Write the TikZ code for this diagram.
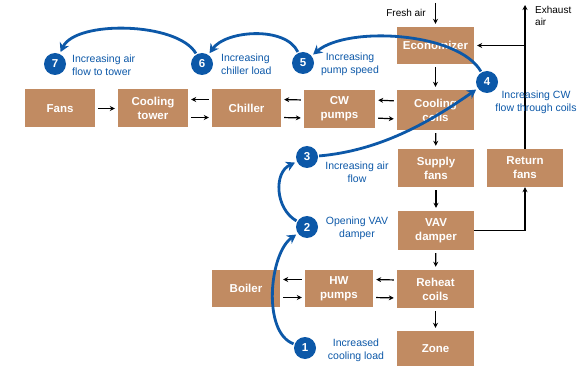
\documentclass[tikz,border=0pt]{standalone}
\usepackage{fontspec}
\setmainfont{Liberation Sans}
\setsansfont{Liberation Sans}
\usetikzlibrary{arrows.meta}
\definecolor{boxc}{RGB}{193,139,98}
\definecolor{bblue}{RGB}{12,88,168}
\tikzset{
  box/.style={fill=boxc, text=white, font=\bfseries\fontsize{11.5}{14}\selectfont, align=center, inner sep=0pt},
  circ/.style={circle, fill=bblue, text=white, font=\bfseries\fontsize{11.5}{13}\selectfont, minimum size=22pt, inner sep=0pt},
  lab/.style={text=bblue, font=\fontsize{10.5}{12.8}\selectfont, align=center, inner sep=0pt},
  blk/.style={text=black, font=\fontsize{10}{12.5}\selectfont, align=left, inner sep=0pt},
  karrow/.style={draw=black, line width=1.2pt, -{Stealth[length=5pt,width=5pt]}, shorten >=3pt, shorten <=3pt},
  kline/.style={draw=black, line width=1.2pt},
  barrow/.style={draw=bblue, line width=2.8pt, -{Stealth[length=9pt,width=10pt]}, shorten >=2pt, shorten <=1pt},
}
\begin{document}
\begin{tikzpicture}[x=1pt,y=-1pt]
\useasboundingbox (0,0) rectangle (578,366);
% boxes
\node[box, minimum width=70pt, minimum height=38pt] (fans) at (60,108.5) {Fans};
\node[box, minimum width=70pt, minimum height=38pt] (ct) at (153,108.5) {Cooling\\tower};
\node[box, minimum width=69pt, minimum height=38pt] (chil) at (246.5,108.5) {Chiller};
\node[box, minimum width=71pt, minimum height=38pt] (cwp) at (339.5,109) {CW\\pumps};
\node[box, minimum width=77pt, minimum height=40pt] (cc) at (435.5,110) {Cooling\\coils};
\node[box, minimum width=77pt, minimum height=37pt] (econ) at (435.5,45.5) {Economizer};
\node[box, minimum width=76pt, minimum height=38pt] (sf) at (436,168) {Supply\\fans};
\node[box, minimum width=76pt, minimum height=38pt] (rf) at (525,168) {Return\\fans};
\node[box, minimum width=76pt, minimum height=39pt] (vav) at (436,230.5) {VAV\\damper};
\node[box, minimum width=77pt, minimum height=38pt] (rh) at (435.5,289) {Reheat\\coils};
\node[box, minimum width=68pt, minimum height=37pt] (hwp) at (339,288.5) {HW\\pumps};
\node[box, minimum width=68pt, minimum height=37pt] (boil) at (246,288.5) {Boiler};
\node[box, minimum width=77pt, minimum height=36pt] (zone) at (435.5,349) {Zone};
% horizontal arrows
\draw[karrow] (fans) -- (ct);
\draw[karrow] ([yshift=9pt]chil.west) -- ([yshift=9pt]ct.east);
\draw[karrow] ([yshift=-9pt]ct.east) -- ([yshift=-9pt]chil.west);
\draw[karrow] ([yshift=9pt]cwp.west) -- ([yshift=9pt]chil.east);
\draw[karrow] ([yshift=-9pt]chil.east) -- ([yshift=-9pt]cwp.west);
\draw[karrow] ([yshift=9pt]cc.west) -- ([yshift=9pt]cwp.east);
\draw[karrow] ([yshift=-9pt]cwp.east) -- ([yshift=-9pt]cc.west);
\draw[karrow] ([yshift=9pt]hwp.west) -- ([yshift=9pt]boil.east);
\draw[karrow] ([yshift=-9pt]boil.east) -- ([yshift=-9pt]hwp.west);
\draw[karrow] ([yshift=9pt]rh.west) -- ([yshift=9pt]hwp.east);
\draw[karrow] ([yshift=-9pt]hwp.east) -- ([yshift=-9pt]rh.west);
% vertical arrows
\draw[karrow] (econ) -- (cc);
\draw[karrow] (cc) -- (sf);
\draw[karrow] (sf) -- (vav);
\draw[karrow] (vav) -- (rh);
\draw[karrow] (rh) -- (zone);
% fresh air / exhaust
\coordinate (fa) at (435.5,3);
\coordinate (ex) at (525,5);
\draw[karrow, shorten <=0pt] (fa) -- (econ.north);
\draw[kline, -{Stealth[length=5pt,width=5pt]}] (rf.north) -- (ex);
\draw[karrow, shorten <=0pt] (rf.north |- econ.east) -- (econ.east);
\draw[kline, -{Stealth[length=5pt,width=5pt]}] (vav.east) -- (vav.east -| rf.south) -- (rf.south);
\node[blk, anchor=east] (falab) at (426,13) {Fresh air};
\node[blk, anchor=north west] (exlab) at (535,6) {Exhaust\\air};
% circles
\node[circ] (c7) at (55,64) {7};
\node[circ] (c6) at (202,64) {6};
\node[circ] (c5) at (303,63) {5};
\node[circ] (c4) at (487,82) {4};
\node[circ] (c3) at (307,157) {3};
\node[circ] (c2) at (307,227) {2};
\node[circ] (c1) at (305,348) {1};
% labels
\node[lab, align=left, anchor=west] (l7) at (72,65) {Increasing air\\flow to tower};
\node[lab, align=left, anchor=west] (l6) at (221,64.5) {Increasing\\chiller load};
\node[lab] (l5) at (350,64.5) {Increasing\\pump speed};
\node[lab] (l4) at (536,102) {Increasing CW\\flow through coils};
\node[lab] (l3) at (357,172) {Increasing air\\flow};
\node[lab] (l2) at (357,228.5) {Opening VAV\\damper};
\node[lab] (l1) at (356,350.5) {Increased\\cooling load};
% blue arrows
\draw[barrow] (c1) to[out=160, in=215, looseness=0.8] (c2);
\draw[barrow] (c2) to[out=150, in=205, looseness=1.1] (c3);
\draw[barrow] (c3) to[out=5, in=215, looseness=0.9] (c4);
\draw[barrow] (c4) to[out=120, in=40, looseness=0.7] (c5);
\draw[barrow] (c5) to[out=115, in=55, looseness=0.85] (c6);
\draw[barrow] (c6) to[out=120, in=65, looseness=0.7] (c7);
\end{tikzpicture}
\end{document}
